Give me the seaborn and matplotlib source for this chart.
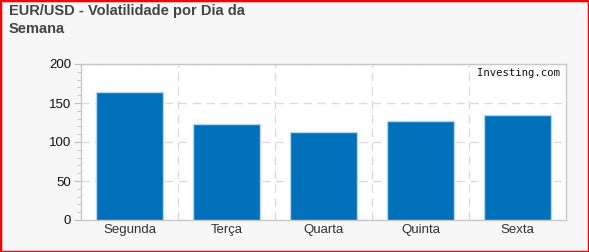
import matplotlib
matplotlib.use("Agg")
import matplotlib.pyplot as plt
import seaborn as sns
import pandas as pd
from matplotlib.ticker import MultipleLocator, FixedLocator
from matplotlib.patches import Rectangle

days = ["Segunda", "Terça", "Quarta", "Quinta", "Sexta"]
volatility = [164.5, 123.5, 112.5, 126.5, 134.0]
yticks = [0, 50, 100, 150, 200]
title = "EUR/USD - Volatilidade por Dia da\nSemana"

sns.set_style("white")
plt.rcParams["font.family"] = ["Liberation Sans", "DejaVu Sans"]

df = pd.DataFrame({"day": days, "vol": volatility})

fig = plt.figure(figsize=(5.89, 2.52), dpi=100, facecolor="#f7f7f7")
ax = fig.add_axes([81/589, 32/252, 485/589, 156/252])
ax.set_facecolor("white")

sns.barplot(data=df, x="day", y="vol", color="#0070ba", width=0.7,
            edgecolor="#b8d4ee", linewidth=1, saturation=1, ax=ax, zorder=3)

ax.set_xlim(-0.5, len(days) - 0.5)
ax.set_ylim(0, 200)
ax.set_yticks(yticks)
ax.yaxis.set_minor_locator(MultipleLocator(10))
ax.xaxis.set_minor_locator(FixedLocator([i + 0.5 for i in range(len(days) - 1)]))
ax.set_xlabel("")
ax.set_ylabel("")

ax.grid(False)
ax.grid(axis="y", which="major", color="#dcdcdc", linestyle=(0, (6, 4)), linewidth=1, zorder=0)
ax.grid(axis="x", which="minor", color="#dcdcdc", linestyle=(0, (6, 4)), linewidth=1, zorder=0)

for s in ax.spines.values():
    s.set_color("#c8c8c8")
    s.set_linewidth(1)

ax.tick_params(axis="y", which="major", length=5, color="#c0c0c0", labelsize=9.5, labelcolor="#111111", pad=2, left=True)
ax.tick_params(axis="y", which="minor", length=3, color="#c0c0c0", left=True)
ax.tick_params(axis="x", which="major", length=0, labelsize=9.5, labelcolor="#333333", pad=3)
ax.tick_params(axis="x", which="minor", length=0)

ax.text(0.988, 0.975, "Investing.com", transform=ax.transAxes, ha="right", va="top",
        fontsize=7.7, family="DejaVu Sans Mono", color="#111111", zorder=5)

fig.text(9/589, 1 - 4/252, title, ha="left", va="top", fontsize=10.5,
         fontweight="bold", color="#444444", linespacing=1.4)

fig.patches.append(Rectangle((0, 0), 1, 1, transform=fig.transFigure, fill=False,
                             edgecolor="#ff0000", linewidth=2.5, zorder=10))

fig.savefig("out.png", dpi=100, facecolor=fig.get_facecolor())
